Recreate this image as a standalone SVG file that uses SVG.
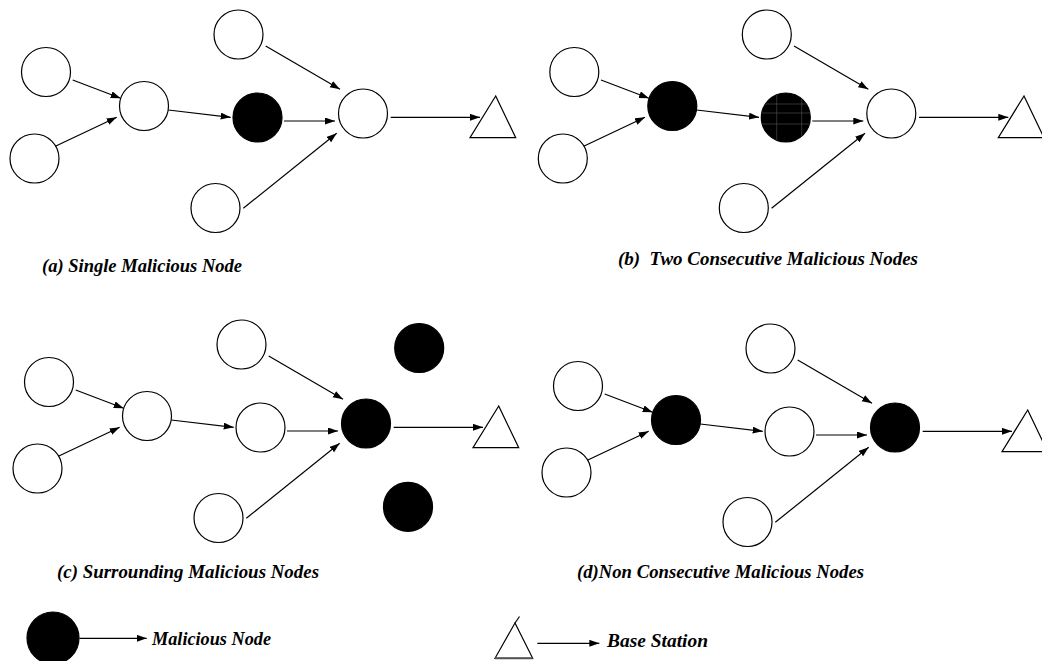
<svg xmlns="http://www.w3.org/2000/svg" width="1042" height="661" viewBox="0 0 1042 661">
<style>
.w{fill:#fff;stroke:#000;stroke-width:1.2}
.b{fill:#000;stroke:#000;stroke-width:1.2}
.t{fill:#fff;stroke:#000;stroke-width:1.2;stroke-linejoin:miter}
.e{stroke:#000;stroke-width:1.2;fill:none;marker-end:url(#ah)}
.lbl{font-family:"Liberation Serif","Times New Roman",serif;font-weight:bold;font-style:italic;font-size:19px;fill:#000}
.hatch{stroke:#555;stroke-width:0.6}
</style>
<defs>
<marker id="ah" markerUnits="userSpaceOnUse" markerWidth="11" markerHeight="8" refX="10" refY="3.5" orient="auto">
<path d="M0,0 L10,3.5 L0,7 Z" fill="#000"/>
</marker>
<clipPath id="hc"><circle cx="257.5" cy="117.5" r="24.5"/></clipPath>
</defs>
<rect width="1042" height="661" fill="#fff"/>

<!-- Panel (a) -->
<g id="panel-a">
<g id="a-connectors">
<line class="e" x1="72.7" y1="80" x2="120.7" y2="98.3"/>
<line class="e" x1="54.3" y1="146.7" x2="116.7" y2="117.3"/>
<line class="e" x1="168.3" y1="110" x2="230.7" y2="117.3"/>
<line class="e" x1="284" y1="121" x2="335" y2="121"/>
<line class="e" x1="265.7" y1="46" x2="340" y2="89.3"/>
<line class="e" x1="243.3" y1="208.3" x2="336.7" y2="133.3"/>
<line class="e" x1="390.7" y1="117.3" x2="480" y2="117.3"/>
</g>
<g id="a-n1"><circle class="w" cx="46" cy="72" r="24.5"/></g>
<g id="a-n2"><circle class="w" cx="34.5" cy="158.5" r="24.5"/></g>
<g id="a-n3"><circle class="w" cx="144" cy="106" r="24.5"/></g>
<g id="a-n4"><circle class="b" cx="257.5" cy="117.5" r="24.5"/></g>
<g id="a-n5"><circle class="w" cx="238.5" cy="34.5" r="24.5"/></g>
<g id="a-n6"><circle class="w" cx="215.5" cy="208" r="24.5"/></g>
<g id="a-n7"><circle class="w" cx="363" cy="113.5" r="24.5"/></g>
<g id="a-bs"><path class="t" d="M495.7,96 L470,137.7 L515.7,137.7 Z"/></g>
</g>
<text class="lbl" x="42" y="272" textLength="200" lengthAdjust="spacingAndGlyphs">(a) Single Malicious Node</text>

<!-- Panel (b) -->
<g id="panel-b" transform="translate(528.3,0)">
<g id="b-connectors">
<line class="e" x1="72.7" y1="80" x2="120.7" y2="98.3"/>
<line class="e" x1="54.3" y1="146.7" x2="116.7" y2="117.3"/>
<line class="e" x1="168.3" y1="110" x2="230.7" y2="117.3"/>
<line class="e" x1="284" y1="121" x2="335" y2="121"/>
<line class="e" x1="265.7" y1="46" x2="340" y2="89.3"/>
<line class="e" x1="243.3" y1="208.3" x2="336.7" y2="133.3"/>
<line class="e" x1="390.7" y1="117.3" x2="480" y2="117.3"/>
</g>
<g id="b-n1"><circle class="w" cx="46" cy="72" r="24.5"/></g>
<g id="b-n2"><circle class="w" cx="34.5" cy="158.5" r="24.5"/></g>
<g id="b-n3"><circle class="b" cx="144" cy="106" r="24.5"/></g>
<g id="b-n4"><circle class="b" cx="257.5" cy="117.5" r="24.5"/>
<g clip-path="url(#hc)">
<line class="hatch" x1="248.4" y1="90" x2="248.4" y2="145"/>
<line class="hatch" x1="273.4" y1="90" x2="273.4" y2="145"/>
<line class="hatch" x1="230" y1="104" x2="285" y2="104"/>
<line class="hatch" x1="230" y1="113" x2="285" y2="113"/>
<line class="hatch" x1="230" y1="124" x2="285" y2="124"/>
</g></g>
<g id="b-n5"><circle class="w" cx="238.5" cy="34.5" r="24.5"/></g>
<g id="b-n6"><circle class="w" cx="215.5" cy="208" r="24.5"/></g>
<g id="b-n7"><circle class="w" cx="363" cy="113.5" r="24.5"/></g>
<g id="b-bs"><path class="t" d="M495.7,96 L470,137.7 L515.7,137.7 Z"/></g>
</g>
<text class="lbl" x="618" y="265" textLength="300" lengthAdjust="spacingAndGlyphs" xml:space="preserve">(b)  Two Consecutive Malicious Nodes</text>

<!-- Panel (c) -->
<g id="panel-c" transform="translate(3,310)">
<g id="c-connectors">
<line class="e" x1="72.7" y1="80" x2="120.7" y2="98.3"/>
<line class="e" x1="54.3" y1="146.7" x2="116.7" y2="117.3"/>
<line class="e" x1="168.3" y1="110" x2="230.7" y2="117.3"/>
<line class="e" x1="284" y1="121" x2="335" y2="121"/>
<line class="e" x1="265.7" y1="46" x2="340" y2="89.3"/>
<line class="e" x1="243.3" y1="208.3" x2="336.7" y2="133.3"/>
<line class="e" x1="390.7" y1="117.3" x2="480" y2="117.3"/>
</g>
<g id="c-n1"><circle class="w" cx="46" cy="72" r="24.5"/></g>
<g id="c-n2"><circle class="w" cx="34.5" cy="158.5" r="24.5"/></g>
<g id="c-n3"><circle class="w" cx="144" cy="106" r="24.5"/></g>
<g id="c-n4"><circle class="w" cx="257.5" cy="117.5" r="24.5"/></g>
<g id="c-n5"><circle class="w" cx="238.5" cy="34.5" r="24.5"/></g>
<g id="c-n6"><circle class="w" cx="215.5" cy="208" r="24.5"/></g>
<g id="c-n7"><circle class="b" cx="363" cy="113.5" r="24.5"/></g>
<g id="c-m1"><circle class="b" cx="416.2" cy="38" r="24.5"/></g>
<g id="c-m2"><circle class="b" cx="405" cy="196.8" r="24.5"/></g>
<g id="c-bs"><path class="t" d="M495.7,96 L470,137.7 L515.7,137.7 Z"/></g>
</g>
<text class="lbl" x="57" y="578" textLength="262" lengthAdjust="spacingAndGlyphs">(c) Surrounding Malicious Nodes</text>

<!-- Panel (d) -->
<g id="panel-d" transform="translate(532,314)">
<g id="d-connectors">
<line class="e" x1="72.7" y1="80" x2="120.7" y2="98.3"/>
<line class="e" x1="54.3" y1="146.7" x2="116.7" y2="117.3"/>
<line class="e" x1="168.3" y1="110" x2="230.7" y2="117.3"/>
<line class="e" x1="284" y1="121" x2="335" y2="121"/>
<line class="e" x1="265.7" y1="46" x2="340" y2="89.3"/>
<line class="e" x1="243.3" y1="208.3" x2="336.7" y2="133.3"/>
<line class="e" x1="390.7" y1="117.3" x2="480" y2="117.3"/>
</g>
<g id="d-n1"><circle class="w" cx="46" cy="72" r="24.5"/></g>
<g id="d-n2"><circle class="w" cx="34.5" cy="158.5" r="24.5"/></g>
<g id="d-n3"><circle class="b" cx="144" cy="106" r="24.5"/></g>
<g id="d-n4"><circle class="w" cx="257.5" cy="117.5" r="24.5"/></g>
<g id="d-n5"><circle class="w" cx="238.5" cy="34.5" r="24.5"/></g>
<g id="d-n6"><circle class="w" cx="215.5" cy="208" r="24.5"/></g>
<g id="d-n7"><circle class="b" cx="363" cy="113.5" r="24.5"/></g>
<g id="d-bs"><path class="t" d="M495.7,96 L470,137.7 L515.7,137.7 Z"/></g>
</g>
<text class="lbl" x="577" y="578" textLength="287" lengthAdjust="spacingAndGlyphs">(d)Non Consecutive Malicious Nodes</text>

<!-- Legend -->
<g id="legend-malicious">
<circle class="b" cx="53" cy="638" r="26"/>
<line class="e" x1="79.5" y1="638.3" x2="146.7" y2="638.3"/>
<text class="lbl" x="152" y="645" textLength="119" lengthAdjust="spacingAndGlyphs">Malicious Node</text>
</g>
<g id="legend-base">
<path class="t" d="M515,623 L495,658.3 L532.7,658.3 Z"/>
<line x1="495" y1="658.3" x2="532.7" y2="658.3" stroke="#555" stroke-width="2"/>
<line x1="515" y1="623" x2="519.5" y2="616.5" stroke="#000" stroke-width="1.2"/>
<line class="e" x1="537.3" y1="643.3" x2="599.3" y2="643.3"/>
<text class="lbl" x="607" y="647" textLength="101" lengthAdjust="spacingAndGlyphs">Base Station</text>
</g>
</svg>
